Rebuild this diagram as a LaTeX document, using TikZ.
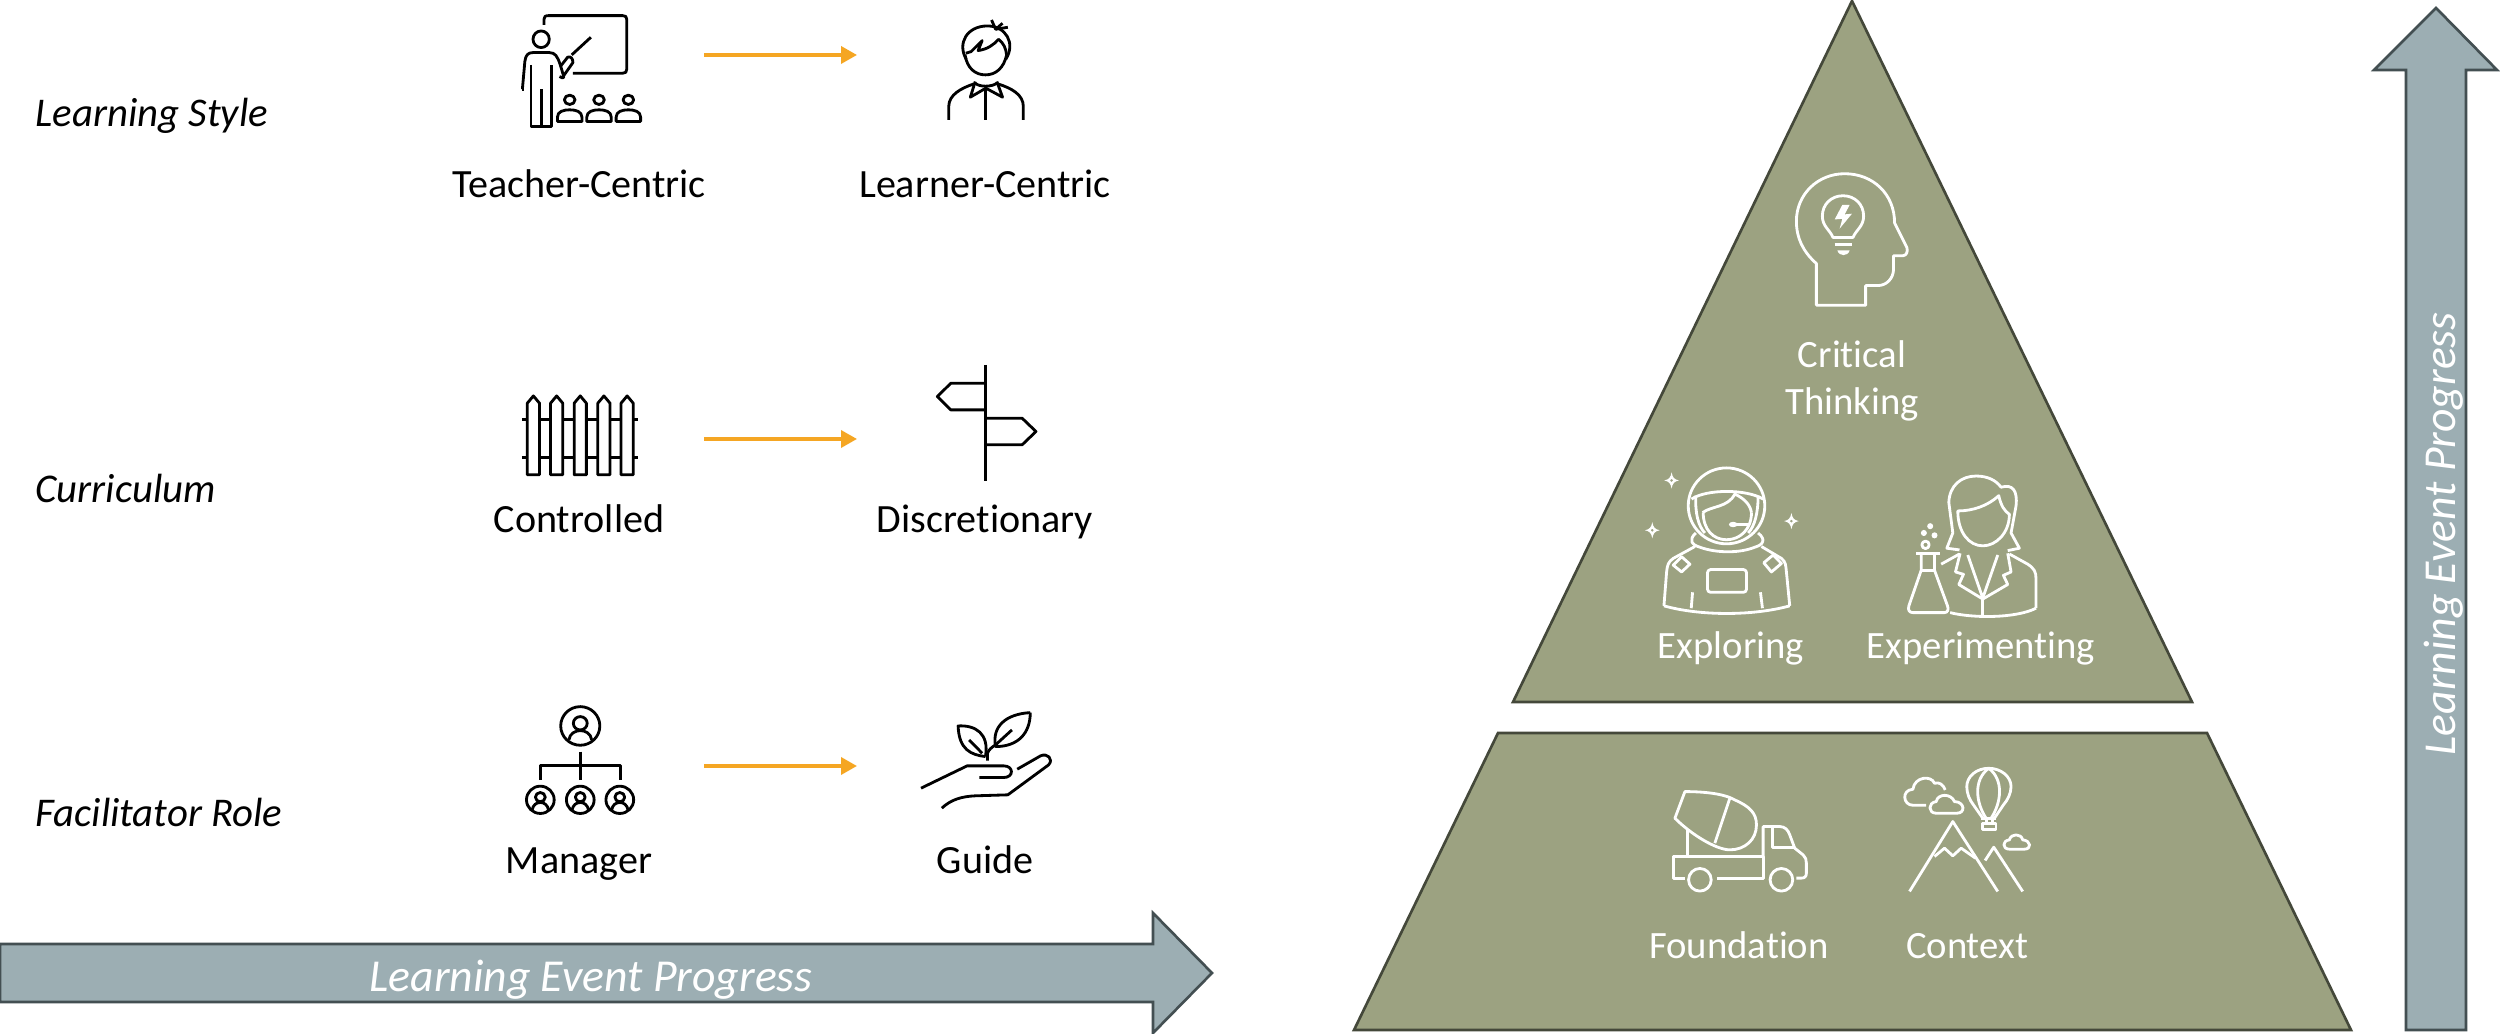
\documentclass[tikz,border=0pt]{standalone}
\usepackage{fontspec}
\setmainfont[Ligatures=NoCommon]{Carlito}
\usetikzlibrary{arrows.meta}
\definecolor{olive}{HTML}{9CA281}
\definecolor{olivedk}{HTML}{44483A}
\definecolor{slate}{HTML}{9CAEB3}
\definecolor{slatedk}{HTML}{434F52}
\definecolor{amber}{HTML}{F5A623}
\tikzset{
  zm/.style 2 args={shift={(#1,#2)},x=0.0033333cm,y=-0.0033333cm},
  zw/.style 2 args={shift={(#1,#2)},x=0.0040816cm,y=-0.0033333cm},
  zt/.style 2 args={shift={(#1,#2)},x=0.0033333cm,y=-0.0033801cm},
  ic/.style={line width=0.8pt,line join=round,draw=black},
  wc/.style={line width=0.8pt,line join=round,draw=white},
  flow/.style={draw=amber,line width=1pt,-{Triangle[length=0.16cm,width=0.17cm]}},
  lab/.style={anchor=base,font=\fontsize{11.4}{14}\selectfont,text=black,inner sep=0pt},
  wlab/.style={anchor=base,font=\fontsize{11}{14}\selectfont,text=white,inner sep=0pt},
  row/.style={anchor=base west,font=\fontsize{11.6}{15}\selectfont\itshape,text=black,inner sep=0pt},
  big/.style={anchor=base,font=\fontsize{13}{17}\selectfont\itshape,text=white,inner sep=0pt},
  pyr/.style={fill=olive,draw=olivedk,line width=0.75pt,line join=miter},
  shaft/.style={fill=slate,draw=slatedk,line width=0.75pt,line join=miter}
}
\begin{document}
\begin{tikzpicture}[x=0.01cm,y=-0.01cm]
\useasboundingbox (0,0) rectangle (2500,1034);
\fill[white] (0,0) rectangle (2500,1034);

% pyramid
\draw[pyr] (1852,1) -- (2192,702) -- (1513,702) -- cycle;
\draw[pyr] (1498,733) -- (2207,733) -- (2351,1030) -- (1354,1030) -- cycle;

% big arrows
\draw[shaft] (0,944) -- (1153,944) -- (1153,913) -- (1212,973) -- (1153,1033) -- (1153,1002) -- (0,1002) -- cycle;
\draw[shaft] (2436,8) -- (2497,70) -- (2466,70) -- (2466,1030) -- (2406,1030) -- (2406,70) -- (2374,70) -- cycle;
\node[big] (hprog) at (591,991) {Learning Event Progress};
\node[big,rotate=90] (vprog) at (2455,534) {Learning Event Progress};

% row labels
\node[row] (r1) at (35,127) {Learning Style};
\node[row] (r2) at (35,503) {Curriculum};
\node[row] (r3) at (35,827) {Facilitator Role};

% item labels
\node[lab] (t1) at (579,198) {Teacher-Centric};
\node[lab] (t2) at (985,198) {Learner-Centric};
\node[lab] (c1) at (579,533) {Controlled};
\node[lab] (c2) at (985,533) {Discretionary};
\node[lab] (m1) at (579,873) {Manager};
\node[lab] (m2) at (985,873) {Guide};
\node[wlab] (p1) at (1852,368) {Critical};
\node[wlab] (p2) at (1852,415) {Thinking};
\node[wlab] (p3) at (1731,659) {Exploring};
\node[wlab] (p4) at (1981,659) {Experimenting};
\node[wlab] (p5) at (1739,958) {Foundation};
\node[wlab] (p6) at (1967,958) {Context};

% flows
\coordinate (f1a) at (704,55); \coordinate (f1b) at (857,55);
\coordinate (f2a) at (704,439); \coordinate (f2b) at (857,439);
\coordinate (f3a) at (704,766); \coordinate (f3b) at (857,766);
\draw[flow] (f1a) -- (f1b);
\draw[flow] (f2a) -- (f2b);
\draw[flow] (f3a) -- (f3b);

% teacher + learner
\begin{scope}[zw={480}{0},ic]
\draw (157,75) -- (157,58) .. controls (157,50) and (160,47) .. (168,47) -- (350,47) .. controls (357,47) and (360,50) .. (360,58) -- (360,208) .. controls (360,217) and (357,220) .. (350,220) -- (228,220);
\draw (150,118) ellipse [x radius=20,y radius=25];
\draw (104,268) -- (110,185) .. controls (112,165) and (118,158) .. (130,158) -- (170,158) .. controls (185,158) and (190,170) .. (197,195);
\draw (197,195) -- (205,228) .. controls (208,236) and (198,236) .. (195,230);
\draw (205,228) -- (228,188) .. controls (228,175) and (222,168) .. (215,172) -- (197,200);
\draw (225,165) -- (272,112);
\draw (104,268) -- (108,268);
\draw (125,195) -- (125,380) -- (175,380) -- (175,195);
\draw (150,268) -- (150,380);
\foreach \sx in {220,292,364}{
  \draw (\sx,300) ellipse [x radius=13,y radius=14];
  \draw (\sx-30,365) -- (\sx-30,352) .. controls (\sx-30,335) and (\sx-15,330) .. (\sx,330) .. controls (\sx+15,330) and (\sx+30,335) .. (\sx+30,352) -- (\sx+30,365) -- cycle;
}
% learner
\draw (1193,178) .. controls (1170,130) and (1195,78) .. (1245,78) .. controls (1290,78) and (1315,130) .. (1290,178);
\draw (1190,165) .. controls (1195,205) and (1215,225) .. (1240,225) .. controls (1265,225) and (1285,205) .. (1292,165);
\draw (1192,160) -- (1205,155) -- (1232,122) -- (1222,152) .. controls (1245,148) and (1260,135) .. (1272,118) .. controls (1285,130) and (1290,145) .. (1292,165);
\draw (1255,60) -- (1265,88) -- (1295,82);
\draw (1265,88) -- (1282,70);
\draw (1150,360) -- (1150,320) .. controls (1150,285) and (1180,265) .. (1212,252);
\draw (1270,252) .. controls (1305,265) and (1333,285) .. (1333,320) -- (1333,360);
\draw (1241,265) -- (1241,360);
\draw (1215,245) -- (1203,292) -- (1241,265) -- (1282,292) -- (1268,245);
\draw (1215,250) .. controls (1225,262) and (1255,262) .. (1268,250);
\end{scope}

% fence + signpost
\begin{scope}[zw={480}{340},ic]
\draw (103,238) -- (388,238);
\draw (103,352) -- (388,352);
\foreach \px in {131,188,246,304,361}{
  \draw[fill=white] (\px-15,405) -- (\px-15,190) -- (\px,168) -- (\px+15,190) -- (\px+15,405) -- cycle;
}
\draw (1241,75) -- (1241,425);
\draw (1241,130) -- (1155,130) -- (1122,170) -- (1155,210) -- (1241,210);
\draw (1241,235) -- (1330,235) -- (1364,275) -- (1330,315) -- (1241,315);
\end{scope}

% manager + guide
\begin{scope}[zw={480}{690},ic]
\draw (246,108) ellipse [x radius=48,y radius=58];
\draw (246,100) ellipse [x radius=17,y radius=20];
\draw (218,150) .. controls (220,130) and (235,122) .. (246,122) .. controls (258,122) and (272,130) .. (274,150);
\draw (246,185) -- (246,270);
\draw (148,270) -- (148,228) -- (344,228) -- (344,270);
\foreach \mx in {148,246,343}{
  \draw (\mx,330) ellipse [x radius=34,y radius=41];
  \draw (\mx,322) ellipse [x radius=12,y radius=14];
  \draw (\mx-20,360) .. controls (\mx-18,346) and (\mx-10,338) .. (\mx,338) .. controls (\mx+10,338) and (\mx+18,346) .. (\mx+20,360);
}
% guide
\draw (1240,200) .. controls (1205,195) and (1175,180) .. (1173,108) .. controls (1215,105) and (1250,130) .. (1240,200);
\draw (1200,150) -- (1232,190);
\draw (1350,68) .. controls (1290,72) and (1255,110) .. (1265,170) .. controls (1320,170) and (1350,130) .. (1350,68);
\draw (1305,120) -- (1262,168);
\draw (1245,212) -- (1245,190) .. controls (1248,180) and (1255,172) .. (1265,165);
\draw (1082,295) -- (1195,228) -- (1285,228) .. controls (1310,228) and (1310,263) .. (1285,263) -- (1225,263);
\draw (1318,238) -- (1375,198) .. controls (1392,188) and (1408,208) .. (1395,225) -- (1295,315) -- (1215,318) .. controls (1180,320) and (1155,330) .. (1133,355);
\end{scope}

% head, astronaut, scientist
\begin{scope}[zt={1620}{150},wc]
\draw (590,458) -- (590,335) .. controls (550,300) and (530,260) .. (530,210) .. controls (530,130) and (595,70) .. (675,70) .. controls (760,70) and (825,130) .. (825,215) -- (862,288) .. controls (866,300) and (860,312) .. (850,312) -- (822,312) -- (822,350) .. controls (822,380) and (800,400) .. (775,400) -- (738,400) -- (738,458) -- cycle;
\draw (640,258) .. controls (630,235) and (608,225) .. (608,195) .. controls (608,160) and (635,135) .. (670,135) .. controls (705,135) and (732,160) .. (732,195) .. controls (732,225) and (710,235) .. (700,258) -- cycle;
\draw (645,278) -- (697,278);
\fill[white] (653,296) -- (690,296) .. controls (685,315) and (658,315) .. (653,296) -- cycle;
\fill[white] (668,162) -- (645,205) -- (668,203) -- (660,232) -- (697,188) -- (675,190) -- (690,162) -- cycle;
% astronaut
\draw (320,1050) ellipse [x radius=115,y radius=112];
\draw (215,1030) .. controls (260,1000) and (380,1000) .. (430,1030);
\draw (228,1020) .. controls (225,1070) and (235,1110) .. (255,1130);
\draw (415,1020) .. controls (415,1070) and (405,1110) .. (385,1130);
\draw (250,1070) .. controls (250,1120) and (280,1150) .. (320,1150) .. controls (360,1150) and (395,1120) .. (395,1070);
\draw (248,1070) .. controls (275,1050) and (325,1055) .. (345,1015) .. controls (365,1025) and (390,1040) .. (395,1070);
\fill[white] (340,1105) ellipse [x radius=13,y radius=8];
\draw (345,1105) -- (385,1105);
\draw (228,1130) .. controls (205,1150) and (215,1165) .. (240,1172) .. controls (290,1190) and (360,1190) .. (405,1172) .. controls (430,1165) and (440,1150) .. (415,1130);
\draw (225,1170) -- (160,1205) .. controls (145,1215) and (142,1225) .. (140,1245) -- (132,1345);
\draw (425,1170) -- (485,1205) .. controls (498,1215) and (498,1225) .. (500,1245) -- (510,1345);
\draw (132,1345) .. controls (240,1375) and (400,1375) .. (510,1345);
\draw (160,1225) -- (185,1200) -- (210,1222) -- (185,1245) -- cycle;
\draw (432,1218) -- (460,1195) -- (485,1220) -- (455,1245) -- cycle;
\draw[rounded corners=0.03cm] (263,1238) rectangle (380,1305);
\draw (218,1305) -- (214,1352);
\draw (422,1305) -- (428,1352);
\foreach \stx/\sty in {155/975,97/1122,515/1095}{
  \fill[white,even odd rule] (\stx,\sty-24) .. controls (\stx+3,\sty-8) and (\stx+8,\sty-3) .. (\stx+22,\sty) .. controls (\stx+8,\sty+3) and (\stx+3,\sty+8) .. (\stx,\sty+24) .. controls (\stx-3,\sty+8) and (\stx-8,\sty+3) .. (\stx-22,\sty) .. controls (\stx-8,\sty-3) and (\stx-3,\sty-8) .. (\stx,\sty-24) -- cycle (\stx,\sty) circle [radius=5];
}
% scientist
\draw (1020,1180) -- (982,1175) -- (1000,1130) -- (988,1040) .. controls (990,990) and (1025,962) .. (1070,962) .. controls (1105,962) and (1130,975) .. (1145,995) .. controls (1180,985) and (1195,1005) .. (1190,1050) -- (1175,1130) -- (1200,1175) -- (1165,1182);
\draw (1015,1065) .. controls (1060,1065) and (1105,1050) .. (1138,1020) .. controls (1145,1050) and (1155,1065) .. (1170,1075) .. controls (1170,1130) and (1130,1168) .. (1090,1168) .. controls (1050,1168) and (1015,1130) .. (1015,1065) -- cycle;
\draw (965,1222) -- (1020,1192);
\draw (1170,1192) -- (1225,1222) .. controls (1245,1235) and (1250,1245) .. (1250,1265) -- (1250,1352);
\draw (992,1365) .. controls (1060,1382) and (1190,1382) .. (1250,1352);
\draw (1045,1195) -- (1090,1322) -- (1135,1195);
\draw (1022,1190) -- (1008,1245) -- (1032,1252) -- (1018,1282) -- (1090,1325) -- (1165,1282) -- (1152,1255) -- (1175,1245) -- (1165,1190);
\draw (1090,1325) -- (1090,1375);
\draw (890,1190) -- (960,1190);
\draw (905,1190) -- (905,1240) -- (868,1345) .. controls (864,1358) and (870,1365) .. (880,1365) -- (975,1365) .. controls (985,1365) and (988,1355) .. (984,1345) -- (945,1240) -- (945,1190);
\draw (905,1240) -- (945,1240);
\draw (918,1165) circle [radius=11];
\fill[white] (945,1137) circle [radius=9];
\fill[white] (913,1130) circle [radius=9];
\fill[white] (932,1110) circle [radius=9];
\end{scope}

% truck, context
\begin{scope}[zm={1620}{750},wc]
\draw (165,205) -- (195,125) .. controls (270,125) and (320,135) .. (345,150) .. controls (390,170) and (410,190) .. (410,225) .. controls (410,270) and (375,300) .. (330,300) .. controls (290,300) and (215,255) .. (165,205) -- cycle;
\draw (330,145) -- (285,280);
\draw (203,240) -- (203,320);
\draw (195,385) -- (160,385) -- (160,320) -- (430,320) -- (430,385) -- (290,385);
\draw (240,390) circle [radius=34];
\draw (485,390) circle [radius=34];
\draw (430,320) -- (430,230) -- (480,230) .. controls (495,230) and (505,240) .. (510,255) -- (525,295) -- (550,315) .. controls (558,322) and (560,330) .. (560,340) -- (560,370) .. controls (560,380) and (555,385) .. (545,385) -- (530,385);
\draw (458,230) -- (458,293) -- (525,293);
% context
\draw (920,166) -- (880,166) .. controls (850,166) and (845,120) .. (880,118) .. controls (885,80) and (935,75) .. (945,100) .. controls (960,95) and (972,105) .. (977,120);
\draw (950,190) .. controls (925,190) and (925,158) .. (950,155) .. controls (955,130) and (995,130) .. (1005,155) .. controls (1035,155) and (1040,190) .. (1012,190) -- cycle;
\draw (1170,298) .. controls (1148,298) and (1148,272) .. (1170,270) .. controls (1175,250) and (1205,250) .. (1210,270) .. controls (1235,272) and (1238,298) .. (1215,298) -- cycle;
\draw (1090,205) -- (1062,165) .. controls (1050,150) and (1042,130) .. (1042,110) .. controls (1042,80) and (1070,55) .. (1108,55) .. controls (1145,55) and (1175,80) .. (1175,110) .. controls (1175,130) and (1165,150) .. (1152,165) -- (1125,205);
\draw (1108,55) .. controls (1060,90) and (1070,160) .. (1100,205);
\draw (1108,55) .. controls (1155,90) and (1145,160) .. (1115,205);
\draw (1085,205) -- (1130,205);
\draw (1090,220) rectangle (1130,240);
\draw (1100,205) -- (1100,220);
\draw (1118,205) -- (1118,220);
\draw (870,425) -- (1000,215) -- (1135,425);
\draw (945,320) -- (975,295) -- (1000,318) -- (1025,295) -- (1068,325);
\draw (1097,332) -- (1123,292) -- (1210,425);
\end{scope}
\end{tikzpicture}
\end{document}
